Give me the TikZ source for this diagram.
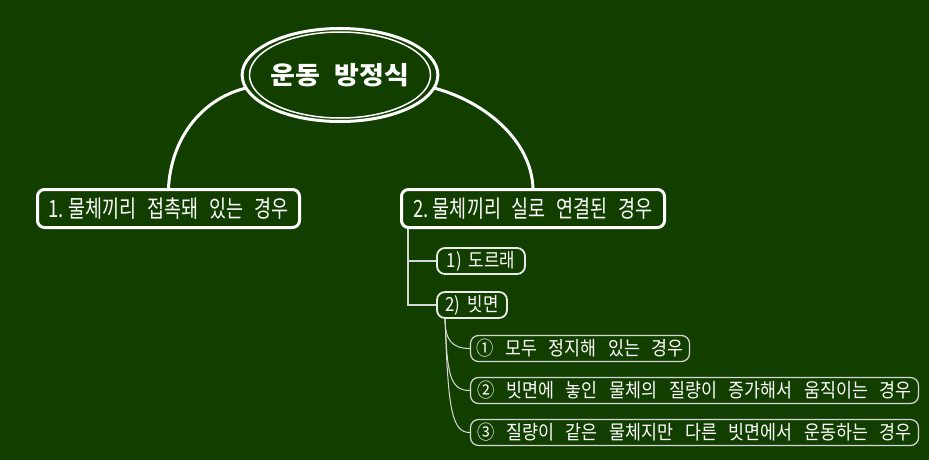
\documentclass[tikz,border=0pt]{standalone}
\usepackage{fontspec}
\usetikzlibrary{shapes.geometric}
\newfontfamily\krroot[WordSpace=2.3,FakeStretch=1.08]{Noto Sans CJK KR}
\newfontfamily\krmain[WordSpace=2.6,FakeStretch=0.78]{Noto Sans CJK KR}
\newfontfamily\krsub[WordSpace=1.9,FakeStretch=0.86]{Noto Sans CJK KR}
\newfontfamily\krleaf[WordSpace=3.0,FakeStretch=0.89]{Noto Sans CJK KR}
\definecolor{bg}{RGB}{18,62,0}
\definecolor{lineA}{RGB}{235,235,235}
\definecolor{lineB}{RGB}{215,215,215}
\tikzset{
  rootnode/.style={ellipse, draw=white, line width=3pt, minimum width=189pt, minimum height=93pt, inner sep=0pt, text=white, font=\krroot\bfseries\fontsize{25}{28}\selectfont},
  mainbox/.style={rectangle, rounded corners=7pt, draw=white, line width=3pt, minimum width=262pt, minimum height=38pt, inner sep=0pt, text=white, font=\krmain\fontsize{23.75}{26}\selectfont},
  subbox/.style={rectangle, rounded corners=8pt, draw=lineA, line width=1.8pt, minimum height=26pt, inner sep=0pt, text=white, font=\krsub\fontsize{19.5}{22}\selectfont},
  leafbox/.style={rectangle, rounded corners=8pt, draw=lineB, line width=1.2pt, minimum height=26pt, inner sep=0pt, text=white, font=\krleaf\fontsize{19.5}{22}\selectfont},
  trunk/.style={draw=white, line width=3pt},
  branch/.style={draw=lineB, line width=1.6pt},
  twig/.style={draw=lineB, line width=1pt}
}
\begin{document}
\begin{tikzpicture}[x=1pt,y=-1pt]
\useasboundingbox (0,0) rectangle (929,460);
\fill[bg] (0,0) rectangle (929,460);
\node[rootnode] (root) at (340,75) {운동 방정식};
\draw[white, line width=1.5pt] (root.center) ellipse [x radius=90.5pt, y radius=43pt];
\node[mainbox] (m1) at (168.5,208.5) {1.\hspace{4.3pt}물체끼리 접촉돼 있는 경우};
\node[mainbox, minimum width=263pt] (m2) at (533,208.5) {2.\hspace{4.3pt}물체끼리 실로 연결된 경우};
\node[subbox, minimum width=88pt] (s1) at (481,261) {1) 도르래};
\node[subbox, minimum width=70pt] (s2) at (472,305) {2) 빗면};
\node[leafbox, minimum width=219pt] (l1) at (580,348.5) {① 모두 정지해 있는 경우};
\node[leafbox, minimum width=448pt] (l2) at (694.5,390.5) {② 빗면에 놓인 물체의 질량이 증가해서 움직이는 경우};
\node[leafbox, minimum width=448pt] (l3) at (694.5,432.5) {③ 질량이 같은 물체지만 다른 빗면에서 운동하는 경우};
\draw[trunk] (root.188) .. controls (200,100) and (171,140) .. (m1.north);
\draw[trunk] (root.-8) .. controls (485,102) and (531,140) .. (m2.north);
\draw[branch] (m2.south west) ++(8,0) |- (s1.west);
\draw[branch] (m2.south west) ++(8,0) |- (s2.west);
\draw[twig] (s2.south west) ++(9,0) .. controls (445,340) and (452,348.5) .. (l1.west);
\draw[twig] (s2.south west) ++(9,0) .. controls (447,375) and (450,390.5) .. (l2.west);
\draw[twig] (s2.south west) ++(9,0) .. controls (448,410) and (452,432.5) .. (l3.west);
\end{tikzpicture}
\end{document}
